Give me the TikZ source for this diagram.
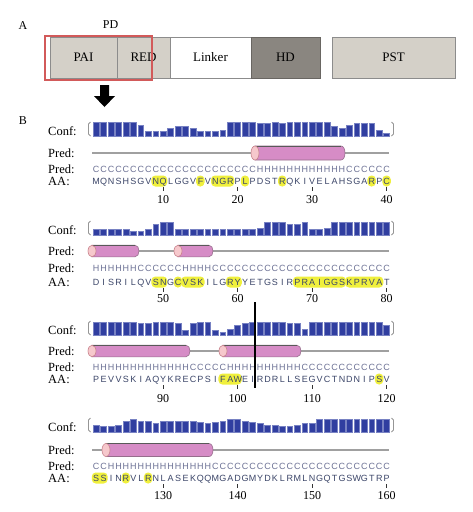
\documentclass[tikz,border=0pt]{standalone}
\usepackage{fontspec}
\setmainfont{Liberation Serif}
\newfontfamily\seqfont{Liberation Sans}
\definecolor{domgray}{RGB}{212,208,200}
\definecolor{hdgray}{RGB}{138,134,128}
\definecolor{domedge}{RGB}{140,140,140}
\definecolor{hdedge}{RGB}{105,102,98}
\definecolor{pdred}{RGB}{210,90,90}
\definecolor{barblue}{RGB}{48,62,160}
\definecolor{baredge}{RGB}{120,130,195}
\definecolor{cylpink}{RGB}{214,140,198}
\definecolor{cyledge}{RGB}{150,110,140}
\definecolor{cappink}{RGB}{246,200,204}
\definecolor{capedge}{RGB}{200,130,140}
\definecolor{linegray}{RGB}{160,160,160}
\definecolor{hlyellow}{RGB}{240,240,60}
\definecolor{predcol}{RGB}{110,115,150}
\definecolor{aacol}{RGB}{60,70,105}
\definecolor{brkgray}{RGB}{150,150,150}
\def\sqloop#1{\ifx#1\relax\else\makebox[7.45pt]{#1}\expandafter\sqloop\fi}
\newcommand\seqtext[1]{\sqloop#1\relax}
\newcommand\confbars[3]{% #1 base y, #2 max height, #3 values 0..9
  \foreach \v [count=\i] in {#3} {
    \fill[confbar] ({96+7.45*(\i-1)-2.9},#1) rectangle ({96+7.45*(\i-1)+2.9},{#1-\v*#2/9});
  }}
\newcommand\hlr[3]{% #1 aa y, #2 from, #3 to
  \fill[hl] ({96+7.45*(#2-1)-4.2},{#1-5.5}) rectangle ({96+7.45*(#3-1)+4.2},{#1+5.5});}
\newcommand\cylh[4]{% left, right, y centre, half height
  \draw[cylbody] ({#1+4},{#3-#4}) -- ({#2-4},{#3-#4}) .. controls ({#2+1.3},{#3-#4}) and ({#2+1.3},{#3+#4}) .. ({#2-4},{#3+#4}) -- ({#1+4},{#3+#4}) -- cycle;
  \draw[cyltop] ({#1+4},{#3-#4}) -- ({#2-4},{#3-#4});
  \draw[cylcap] ({#1+4},#3) ellipse [x radius=4, y radius=#4];}
\newcommand\blk[9]{% #1 id, #2 base, #3 pred line y, #4 pred seq y, #5 aa y, #6 num y, #7 first number, #8 pred, #9 aa
  \node[lbl] (conf#1) at (48,{#2-4.5}) {Conf:};
  \node[lbl] (predl#1) at (48,#3) {Pred:};
  \node[lbl] (preds#1) at (48,#4) {Pred:};
  \node[lbl] (aal#1) at (48,#5) {AA:};
  \node[predtxt] (pseq#1) at (92.275,#4) {\seqtext{#8}};
  \node[aatxt] (aseq#1) at (92.275,#5) {\seqtext{#9}};
  \foreach \k in {1,...,4} {
    \pgfmathtruncatemacro\nn{#7+10*(\k-1)}
    \draw[tick] ({96+7.45*(10*\k-1)},{#5+6}) -- ({96+7.45*(10*\k-1)},{#5+10});
    \node[numtxt] (num#1-\k) at ({96+7.45*(10*\k-1)},#6) {\nn};
  }
  \draw[brk] (90.5,{#2-14}) -- (88.5,{#2-12}) -- (88.5,{#2-2}) -- (90.5,#2);
  \draw[brk] (391.5,{#2-14}) -- (393.5,{#2-12}) -- (393.5,{#2-2}) -- (391.5,#2);
}
\begin{document}
\begin{tikzpicture}[x=1pt,y=-1pt,
  lbl/.style={font=\fontsize{12.5}{14}\selectfont, inner sep=0pt, anchor=west},
  numtxt/.style={font=\fontsize{12}{14}\selectfont, inner sep=0pt},
  dombox/.style={draw=domedge, line width=0.8pt, minimum height=41pt, inner sep=0pt, font=\fontsize{13}{15}\selectfont},
  predtxt/.style={font=\seqfont\fontsize{9}{10}\selectfont, text=predcol, inner sep=0pt, anchor=west, text height=6.5pt, text depth=0pt},
  aatxt/.style={font=\seqfont\fontsize{9}{10}\selectfont, text=aacol, inner sep=0pt, anchor=west, text height=6.5pt, text depth=0pt},
  confbar/.style={fill=barblue, draw=baredge, line width=0.4pt},
  hl/.style={fill=hlyellow, rounded corners=4pt},
  predline/.style={draw=linegray, line width=1.6pt},
  cylbody/.style={fill=cylpink, draw=cyledge, line width=0.6pt},
  cyltop/.style={draw=black!65, line width=1pt},
  cylcap/.style={fill=cappink, draw=capedge, line width=0.6pt},
  tick/.style={draw=black!80, line width=1pt},
  brk/.style={draw=brkgray, line width=0.8pt}]
\useasboundingbox (0,0) rectangle (473,512);
\fill[white] (0,0) rectangle (473,512);
% ---------- Part A ----------
\node[inner sep=0pt, font=\fontsize{12}{14}\selectfont] (labA) at (23,26) {A};
\node[inner sep=0pt, font=\fontsize{12}{14}\selectfont] (labPD) at (110.5,25) {PD};
\node[dombox, fill=domgray, minimum width=67pt] (pai) at (83.5,57.5) {PAI};
\node[dombox, fill=domgray, minimum width=53pt] (red) at (143.5,57.5) {RED};
\node[dombox, fill=white, minimum width=81pt] (linker) at (210.5,57.5) {Linker};
\node[dombox, fill=hdgray, draw=hdedge, minimum width=69pt] (hd) at (285.5,57.5) {HD};
\node[dombox, fill=domgray, minimum width=123pt] (pst) at (393.5,57.5) {PST};
\draw[pdred, line width=1.2pt] (45,36) rectangle (152,80);
\fill[black] (100,85) -- (109,85) -- (109,96) -- (115,96) -- (104.5,107) -- (94,96) -- (100,96) -- cycle;
% ---------- Part B ----------
\node[inner sep=0pt, font=\fontsize{12}{14}\selectfont] (labB) at (23,121) {B};
% block 1
\confbars{136}{14}{9,9,9,9,9,9,7,3,3,3,5,6,6,5,3,3,3,4,9,9,9,9,8,8,9,8,9,9,9,9,9,9,6,5,7,8,8,8,4,2}
\draw[predline] (92,153) -- (389,153);
\cylh{251}{345}{153}{7}
\hlr{181}{9}{10}\hlr{181}{15}{15}\hlr{181}{17}{19}\hlr{181}{21}{21}\hlr{181}{26}{26}\hlr{181}{38}{38}\hlr{181}{40}{40}
\blk{1}{136}{153}{169}{181}{200}{10}{CCCCCCCCCCCCCCCCCCCCCCHHHHHHHHHHHHCCCCCC}{MQNSHSGVNQLGGVFVNGRPLPDSTRQKIVELAHSGARPC}
% block 2
\confbars{235}{12.5}{4,4,4,4,4,3,3,4,8,9,9,4,4,4,4,4,4,4,4,4,4,4,5,9,9,9,8,8,9,4,4,5,9,9,9,9,9,9,9,9}
\draw[predline] (92,251) -- (389,251);
\cylh{88}{139}{251}{5.8}
\cylh{174}{213}{251}{5.8}
\hlr{282}{9}{10}\hlr{282}{12}{12}\hlr{282}{13}{15}\hlr{282}{19}{20}\hlr{282}{28}{34}\hlr{282}{35}{39}
\blk{2}{235}{251}{268}{282}{299}{50}{HHHHHHCCCCCCHHHHCCCCCCCCCCCCCCCCCCCCCCCC}{DISRILQVSNGCVSKILGRYYETGSIRPRAIGGSKPRVAT}
% block 3
\confbars{335}{13}{9,9,9,9,9,9,8,8,9,9,9,8,3,8,9,9,3,2,4,7,8,9,9,9,9,9,8,8,4,9,9,9,9,9,9,9,9,9,9,7}
\draw[predline] (92,351) -- (389,351);
\cylh{88}{190}{351}{5.8}
\cylh{219}{301}{351}{5.8}
\hlr{379}{18}{20}\hlr{379}{39}{39}
\blk{3}{335}{351}{367}{379}{399}{90}{HHHHHHHHHHHHHCCCCCHHHHHHHHHHCCCCCCCCCCCC}{PEVVSKIAQYKRECPSIFAWEIRDRLLSEGVCTNDNIPSV}
\draw[black, line width=2.2pt] (255,302) -- (255,388);
% block 4
\confbars{432}{12.5}{5,4,4,5,8,9,8,8,6,8,8,8,8,8,7,6,7,8,9,9,8,7,6,5,5,4,4,5,6,6,9,9,9,9,9,9,9,9,9,9}
\draw[predline] (92,450) -- (389,450);
\cylh{102}{213}{450}{6.5}
\hlr{478}{1}{2}\hlr{478}{5}{5}\hlr{478}{8}{8}
\blk{4}{432}{450}{466}{478}{496}{130}{CCHHHHHHHHHHHHHHCCCCCCCCCCCCCCCCCCCCCCCC}{SSINRVLRNLASEKQQMGADGMYDKLRMLNGQTGSWGTRP}
\end{tikzpicture}
\end{document}
